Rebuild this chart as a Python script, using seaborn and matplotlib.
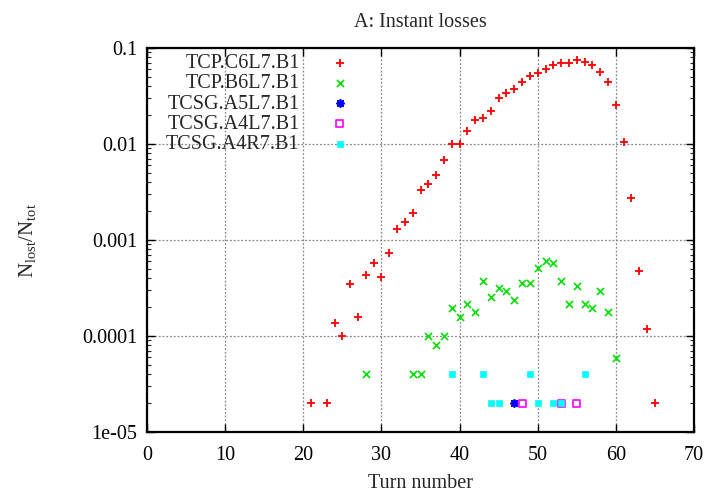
import numpy as np
import pandas as pd
import matplotlib
matplotlib.use("Agg")
import matplotlib.pyplot as plt
from matplotlib.ticker import LogLocator, NullFormatter, FixedLocator, FixedFormatter
import seaborn as sns

# Loss fractions per collimator, by turn number
c6l7_turns = [21, 23, 24, 25, 26, 27, 28, 29, 30, 31, 32, 33, 34, 35, 36, 37, 38, 39, 40,
              41, 42, 43, 44, 45, 46, 47, 48, 49, 50, 51, 52, 53, 54, 55, 56, 57, 58, 59,
              60, 61, 62, 63, 64, 65]
c6l7_loss = [2e-5, 2e-5, 1.38e-4, 1.0e-4, 3.5e-4, 1.57e-4, 4.3e-4, 5.7e-4, 4.1e-4, 7.3e-4,
             1.3e-3, 1.54e-3, 1.9e-3, 3.3e-3, 3.8e-3, 4.75e-3, 6.8e-3, 1.0e-2, 1.0e-2,
             1.38e-2, 1.77e-2, 1.85e-2, 2.22e-2, 3.04e-2, 3.37e-2, 3.71e-2, 4.42e-2,
             5.15e-2, 5.5e-2, 6.04e-2, 6.7e-2, 7.03e-2, 7.03e-2, 7.45e-2, 7.2e-2, 6.6e-2,
             5.62e-2, 4.47e-2, 2.55e-2, 1.04e-2, 2.74e-3, 4.72e-4, 1.17e-4, 2e-5]

b6l7_turns = [28, 34, 35, 36, 37, 38, 39, 40, 41, 42, 43, 44, 45, 46, 47, 48, 49, 50, 51,
              52, 53, 54, 55, 56, 57, 58, 59, 60]
b6l7_loss = [4e-5, 4e-5, 4e-5, 1.0e-4, 8.0e-5, 1.0e-4, 1.96e-4, 1.57e-4, 2.17e-4, 1.77e-4,
             3.74e-4, 2.55e-4, 3.14e-4, 2.96e-4, 2.37e-4, 3.56e-4, 3.56e-4, 5.1e-4,
             6.1e-4, 5.7e-4, 3.74e-4, 2.17e-4, 3.34e-4, 2.15e-4, 1.96e-4, 2.96e-4,
             1.77e-4, 5.9e-5]

a5l7_turns = [47]
a5l7_loss = [2e-5]

a4l7_turns = [48, 53, 55]
a4l7_loss = [2e-5, 2e-5, 2e-5]

a4r7_turns = [39, 43, 44, 45, 49, 50, 52, 53, 56]
a4r7_loss = [4e-5, 4e-5, 2e-5, 2e-5, 4e-5, 2e-5, 2e-5, 2e-5, 4e-5]

labels = ["TCP.C6L7.B1", "TCP.B6L7.B1", "TCSG.A5L7.B1", "TCSG.A4L7.B1", "TCSG.A4R7.B1"]
y_ticks = [1e-5, 1e-4, 1e-3, 1e-2, 1e-1]
y_ticklabels = ["1e-05", "0.0001", "0.001", "0.01", "0.1"]
x_ticks = [0, 10, 20, 30, 40, 50, 60, 70]

sns.set_style("ticks")
plt.rcParams["font.family"] = ["Liberation Serif", "DejaVu Serif"]
plt.rcParams["mathtext.fontset"] = "custom"
plt.rcParams["mathtext.rm"] = "Liberation Serif"
plt.rcParams["mathtext.it"] = "Liberation Serif:italic"
plt.rcParams["xtick.direction"] = "in"
plt.rcParams["ytick.direction"] = "in"

FS = 14.5

fig = plt.figure(figsize=(7.07, 4.96), dpi=100)
ax = fig.add_axes([147 / 707, 1 - 432 / 496, (694 - 147) / 707, (432 - 48) / 496])

series = [
    (c6l7_turns, c6l7_loss, dict(marker="+", color="#ff0000", s=30, linewidth=1.3)),
    (b6l7_turns, b6l7_loss, dict(marker="x", color="#00e000", s=26, linewidth=1.2)),
    (a5l7_turns, a5l7_loss, dict(marker=(8, 2, 0), color="#0000ff", s=26, linewidth=1.3)),
    (a4l7_turns, a4l7_loss, dict(marker="s", color="#ff00ff", facecolor="none",
                                 edgecolor="#ff00ff", s=26, linewidth=1.2)),
    (a4r7_turns, a4r7_loss, dict(marker="s", color="#00ffff", edgecolor="#00ffff",
                                 s=22, linewidth=0.5)),
]

for (turns, loss, style), name in zip(series, labels):
    df = pd.DataFrame({"turn": turns, "loss": loss})
    sns.scatterplot(data=df, x="turn", y="loss", ax=ax, label=name, zorder=3, **style)

ax.set_yscale("log")
ax.set_xlim(0, 70)
ax.set_ylim(1e-5, 0.1)

ax.xaxis.set_major_locator(FixedLocator(x_ticks))
ax.yaxis.set_major_locator(FixedLocator(y_ticks))
ax.yaxis.set_major_formatter(FixedFormatter(y_ticklabels))
ax.yaxis.set_minor_locator(LogLocator(base=10, subs=np.arange(2, 10)))
ax.yaxis.set_minor_formatter(NullFormatter())

ax.tick_params(axis="both", which="major", length=6, width=1.0, top=True, right=True,
               labelsize=FS, colors="black")
ax.tick_params(axis="x", which="major", pad=10)
ax.tick_params(axis="y", which="major", pad=7)
ax.tick_params(axis="y", which="minor", length=3, width=0.8, left=True, right=True)
for sp in ax.spines.values():
    sp.set_linewidth(1.6)
    sp.set_color("black")

ax.grid(True, which="major", color="#888888", linestyle=(0, (1.5, 1.5)), linewidth=0.9)
ax.set_axisbelow(True)

ax.set_title("A: Instant losses", fontsize=FS, pad=15)
ax.set_xlabel("Turn number", fontsize=FS, labelpad=6.5)
ax.set_ylabel(r"N$_{\mathregular{lost}}$/N$_{\mathregular{tot}}$", fontsize=15, labelpad=32)

leg = ax.legend(loc="upper right", bbox_to_anchor=(350 / 707, 1 - 54 / 496),
                bbox_transform=fig.transFigure, frameon=False, markerfirst=False,
                fontsize=FS, handlelength=1.0, handletextpad=1.5, labelspacing=0.06,
                borderpad=0, borderaxespad=0, scatterpoints=1)

fig.savefig("out.png", dpi=100)
